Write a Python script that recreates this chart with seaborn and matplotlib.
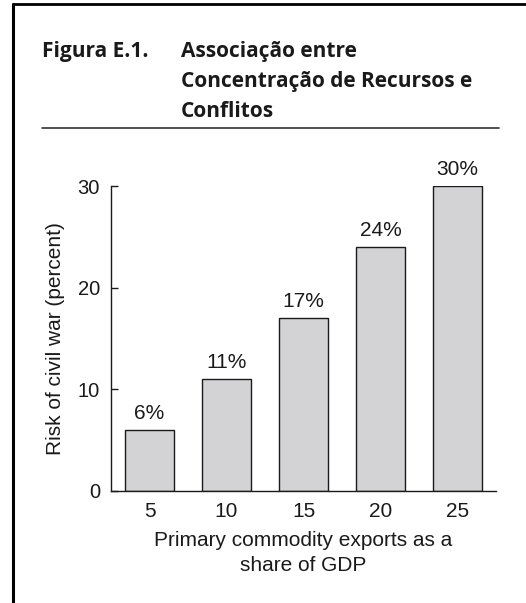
import numpy as np
import pandas as pd
import seaborn as sns
import matplotlib.pyplot as plt
from matplotlib.lines import Line2D

# Datos
share_gdp = ["5", "10", "15", "20", "25"]
risk_pct = [6, 11, 17, 24, 30]
value_labels = ["6%", "11%", "17%", "24%", "30%"]
title_head = "Figura E.1."
title_lines = ["Associação entre", "Concentração de Recursos e", "Conflitos"]
ylabel = "Risk of civil war (percent)"
xlabel = "Primary commodity exports as a\nshare of GDP"

df = pd.DataFrame({"share": share_gdp, "risk": risk_pct})

sns.set_style("white")
plt.rcParams["font.family"] = ["Liberation Sans", "DejaVu Sans"]

W, H = 526, 603
fig = plt.figure(figsize=(W / 100, H / 100), dpi=100)
ax = fig.add_axes([111 / W, 1 - 491 / H, 385 / W, 305 / H])

sns.barplot(data=df, x="share", y="risk", ax=ax, color="#d3d3d5",
            edgecolor="#1a1a1a", linewidth=1.0, width=0.635, saturation=1)

ax.set_xlim(-0.5, 4.5)
ax.set_ylim(0, 30)
ax.set_yticks([0, 10, 20, 30])
ax.set_xticks(range(len(share_gdp)))
ax.set_xticklabels(share_gdp)
ax.set_xticks(np.arange(0.5, 5, 1), minor=True)
ax.tick_params(axis="x", which="major", length=0, pad=8, labelsize=15, colors="#1a1a1a")
ax.tick_params(axis="x", which="minor", direction="in", length=6, width=1, color="#1a1a1a")
ax.tick_params(axis="y", direction="in", length=5, width=1, pad=8, labelsize=14.5,
               left=True, colors="#1a1a1a")

for s in ["top", "right"]:
    ax.spines[s].set_visible(False)
for s in ["left", "bottom"]:
    ax.spines[s].set_color("#1a1a1a")
    ax.spines[s].set_linewidth(1.0)

ax.set_ylabel(ylabel, fontsize=15, labelpad=9, color="#1a1a1a")
ax.set_xlabel(xlabel, fontsize=15, labelpad=7, color="#1a1a1a", linespacing=1.4)

for i, (v, lab) in enumerate(zip(risk_pct, value_labels)):
    ax.annotate(lab, (i, v), xytext=(0, 5), textcoords="offset points",
                ha="center", va="bottom", fontsize=15, color="#1a1a1a",
                annotation_clip=False)

# Título
tfont = ["Open Sans", "DejaVu Sans"]
fig.text(42 / W, 1 - 57 / H, title_head, family=tfont, fontweight="bold",
         fontsize=15, color="#1a1a1a", va="baseline")
for k, line in enumerate(title_lines):
    fig.text(181 / W, 1 - (57 + 30 * k) / H, line, family=tfont, fontweight="bold",
             fontsize=15, color="#1a1a1a", va="baseline")

# Regla bajo el título y marco
fig.add_artist(Line2D([42 / W, 499 / W], [1 - 128 / H] * 2, color="#333333", lw=1.2))
fig.add_artist(Line2D([13 / W, 13 / W], [0, 1 - 4 / H], color="black", lw=2.2))
fig.add_artist(Line2D([13 / W, 1], [1 - 4 / H] * 2, color="black", lw=2.0))

fig.savefig("out.png", dpi=100)
